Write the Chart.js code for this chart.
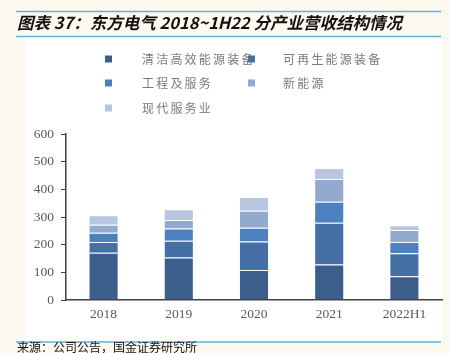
<!DOCTYPE html>
<html>
<head>
<meta charset="utf-8">
<script src="https://cdn.jsdelivr.net/npm/chart.js@4/dist/chart.umd.min.js"></script>
<style>
    html, body { margin: 0; padding: 0; background: #fef9ee; }
    #wrap { width: 450px; height: 353px; position: relative; }
</style>
</head>
<body>
<div id="wrap"><canvas id="revenueChart" width="450" height="353"></canvas></div>
<script>
// data
const years = ['2018', '2019', '2020', '2021', '2022H1'];
const seriesNames = ['清洁高效能源装备', '可再生能源装备', '工程及服务', '新能源', '现代服务业'];
const cleanEnergy = [171, 154, 108, 128, 86];
const renewable = [39, 60, 103, 151, 83];
const engineering = [33, 44, 50, 76, 41];
const newEnergy = [29, 31, 62, 82, 43];
const modernService = [34, 39, 49, 40, 17];
const yTicks = [0, 100, 200, 300, 400, 500, 600];

const titleText = '图表 37：东方电气 2018~1H22 分产业营收结构情况';
const sourceText = '来源：公司公告，国金证券研究所';

const colors = ['#3b5e8c', '#4470a6', '#4d80be', '#93aad0', '#b9c6e1'];
const seriesValues = [cleanEnergy, renewable, engineering, newEnergy, modernService];

// draws the page frame, title, legend and source line
const pageDecor = {
    id: 'pageDecor',
    beforeDraw(chart) {
        const ctx = chart.ctx;
        ctx.save();
        ctx.fillStyle = '#fef9ee';
        ctx.fillRect(0, 0, 450, 353);
        ctx.fillStyle = '#ffffff';
        ctx.fillRect(25, 37, 417, 305);

        // title
        ctx.fillStyle = '#111111';
        ctx.font = 'italic bold 16.5px "Noto Sans CJK SC", sans-serif';
        ctx.textBaseline = 'middle';
        ctx.fillText(titleText, 17, 23);

        // rules
        ctx.strokeStyle = '#5bb4e0';
        ctx.lineWidth = 1.5;
        ctx.beginPath();
        ctx.moveTo(16, 11.5); ctx.lineTo(441, 11.5);
        ctx.moveTo(16, 36.5); ctx.lineTo(441, 36.5);
        ctx.moveTo(16, 342); ctx.lineTo(441, 342);
        ctx.stroke();

        // source
        ctx.fillStyle = '#111111';
        ctx.font = '12px "Noto Sans CJK SC", sans-serif';
        ctx.fillText(sourceText, 17, 347.5);

        // legend, two columns
        ctx.font = '12px "Noto Sans CJK SC", sans-serif';
        const cols = [105, 248];
        const textCols = [142, 283];
        const rows = [59, 83, 108];
        chart.data.datasets.forEach((ds, i) => {
            const c = i % 2, r = Math.floor(i / 2);
            ctx.fillStyle = ds.backgroundColor;
            ctx.fillRect(cols[c], rows[r] - 3.5, 7, 7);
            ctx.fillStyle = '#7a7a7a';
            let x = textCols[c];
            for (const ch of ds.label) {
                ctx.fillText(ch, x, rows[r]);
                x += 14.2;
            }
        });
        ctx.restore();
    }
};

const datasets = seriesNames.map((name, i) => ({
    label: name,
    data: seriesValues[i],
    backgroundColor: colors[i],
    borderColor: 'rgba(255,255,255,0.35)',
    borderWidth: 1,
    barPercentage: 0.4,
    categoryPercentage: 1
}));

new Chart(document.getElementById('revenueChart'), {
    type: 'bar',
    data: { labels: years, datasets: datasets },
    plugins: [pageDecor],
    options: {
        responsive: false,
        animation: false,
        layout: { padding: { left: 0, top: 134, right: 8, bottom: 31 } },
        plugins: {
            legend: { display: false },
            tooltip: { enabled: false }
        },
        scales: {
            x: {
                stacked: true,
                grid: { display: false, drawTicks: false },
                border: { color: '#404040', width: 1.5 },
                ticks: {
                    color: '#595959',
                    font: { family: '"Liberation Serif", serif', size: 13.5 },
                    padding: 6
                },
                afterFit(scale) { scale.height = 22; }
            },
            y: {
                stacked: true,
                min: 0,
                max: 600,
                afterBuildTicks(scale) { scale.ticks = yTicks.map(v => ({ value: v })); },
                grid: { drawOnChartArea: false, tickLength: 5, color: '#404040' },
                border: { color: '#404040', width: 1.5 },
                ticks: {
                    color: '#595959',
                    font: { family: '"Liberation Serif", serif', size: 13.5 },
                    padding: 7
                },
                afterFit(scale) { scale.width = 66; }
            }
        }
    }
});
</script>
</body>
</html>
